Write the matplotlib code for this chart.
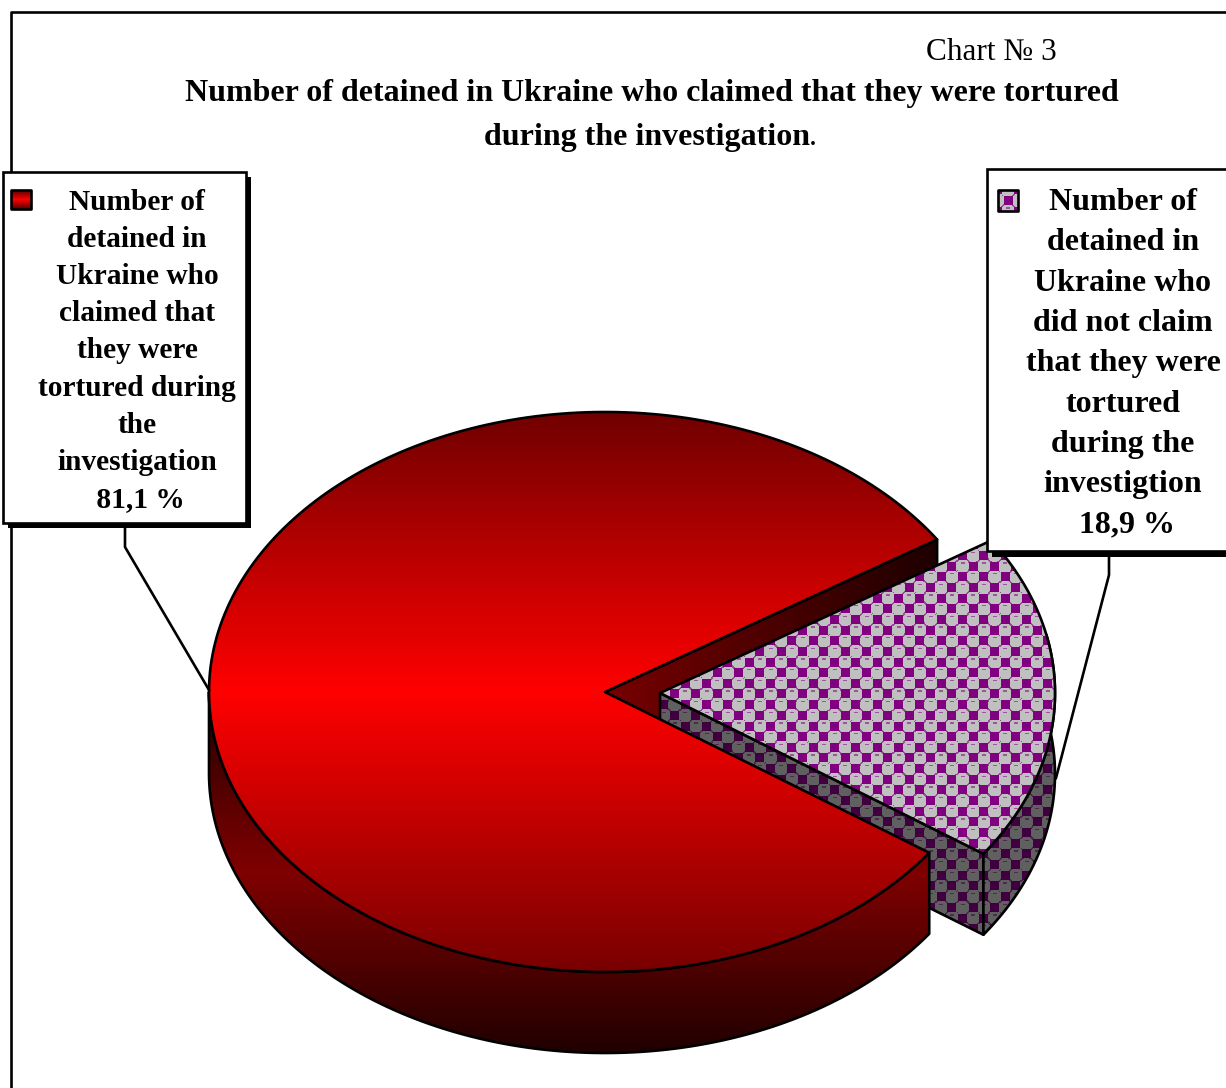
import numpy as np
import matplotlib
matplotlib.use('Agg')
import matplotlib.pyplot as plt
from matplotlib.patches import Polygon, Rectangle

plt.rcParams['font.family'] = ['Liberation Serif', 'DejaVu Sans']

shares = [81.1, 18.9]
chart_no = 'Chart № 3'
title_lines = ['Number of detained in Ukraine who claimed that they were tortured',
               'during the investigation']
left_lines = ['Number of', 'detained in', 'Ukraine who', 'claimed that', 'they were',
              'tortured during', 'the', 'investigation', ' 81,1 %']
right_lines = ['Number of', 'detained in', 'Ukraine who', 'did not claim', 'that they were',
               'tortured', 'during the', 'investigtion', ' 18,9 %']

W, H = 1226, 1088
LW = 1.9
RX, RY, DEPTH = 396, 280, 81
START = 33.0


def arc(cx, cy, a0, a1, rx=RX, ry=RY, dy=0, n=240):
    t = np.radians(np.linspace(a0, a1, n))
    return np.column_stack([cx + rx * np.cos(t), cy - ry * np.sin(t) + dy])


def red_fill(ax, x0, x1, y0, y1, low, high, mid, clip, vertical=True):
    # reflected gradient, black to red channel only
    n = int(max(abs(y1 - y0), abs(x1 - x0))) + 1
    s = np.linspace(0, 1, n)
    r = np.interp(s, [0, mid, 1], [low[0], high, low[1]])
    img = np.zeros((n, 1, 3)) if vertical else np.zeros((1, n, 3))
    if vertical:
        img[:, 0, 0] = r / 255
    else:
        img[0, :, 0] = r / 255
    im = ax.imshow(img, extent=(x0, x1, y1, y0), origin='upper', aspect='auto',
                   interpolation='bilinear', zorder=clip.get_zorder())
    im.set_clip_path(clip)


def checker(ax, x0, x1, y0, y1, clip, grey=(192, 192, 192), purple=(128, 0, 128), phase=(813.3, 662.0)):
    # the original's pattern fill, squares and rings on a 21.3 px lattice
    p = 64 / 3
    xs = np.arange(int(x0), int(x1) + 1) + 0.5
    ys = np.arange(int(y0), int(y1) + 1) + 0.5
    xx, yy = np.meshgrid(xs, ys)
    u = np.mod(xx - phase[0] + p / 4, p) - p / 4
    v = np.mod(yy - phase[1] + p / 4, p) - p / 4
    m = np.zeros_like(xx)
    # squares
    for du, dv in [(0, 0), (p / 2, p / 2)]:
        m[(np.abs(u - du) < 4.5) & (np.abs(v - dv) < 4.5)] = 1
    # rings round the circles
    for du, dv in [(p / 2, 0), (0, p / 2)]:
        d = np.hypot(u - du, v - dv)
        m = np.maximum(m, ((d > 6.8) & (d < 8.2)) * 0.6)
        m = np.maximum(m, ((np.abs(u - du) < 2) & (np.abs(v - dv + 3) < 0.8)) * 0.55)
    g = np.array(grey) / 255
    c = np.array(purple) / 255
    img = g * (1 - m[..., None]) + c * m[..., None]
    im = ax.imshow(img, extent=(xs[0] - .5, xs[-1] + .5, ys[-1] + .5, ys[0] - .5), origin='upper',
                   aspect='auto', interpolation='bilinear', zorder=clip.get_zorder())
    im.set_clip_path(clip)


def shape(ax, pts, z):
    # invisible patch used for clipping plus the black outline
    clip = Polygon(pts, closed=True, facecolor='none', edgecolor='none', zorder=z)
    ax.add_patch(clip)
    line = Polygon(pts, closed=True, facecolor='none', edgecolor='black', lw=LW, zorder=z + 0.5,
                   joinstyle='round')
    ax.add_patch(line)
    return clip


fig = plt.figure(figsize=(W / 100, H / 100), dpi=100)
ax = fig.add_axes([0, 0, 1, 1])

# outer chart frame, only top and left fall inside the picture
ax.plot([11, 11, W + 5], [H + 5, 11.5, 11.5], color='black', lw=LW, zorder=1)

sweep = 360 * shares[0] / 100
a_end = START + sweep
red_c = (605, 692)
pur_c = (660, 693)

# red slice, inner cut face
rim = arc(*red_c, START, START, n=1)[0]
pts = [red_c, rim, rim + [0, DEPTH], np.array(red_c) + [0, DEPTH]]
clip = shape(ax, pts, 2)
red_fill(ax, red_c[0], rim[0], 500, 800, (120, 30), 75, 0.5, clip, vertical=False)

# purple slice walls and top
p_a0, p_a1 = a_end - 360, START
corner = arc(*pur_c, p_a0, p_a0, rx=395, n=1)[0]
pts = [pur_c, corner, corner + [0, DEPTH], np.array(pur_c) + [0, DEPTH]]
clip = shape(ax, pts, 3)
checker(ax, 650, 1000, 680, 950, clip, (96, 96, 96), (64, 0, 64))
top = arc(*pur_c, p_a0, 12, rx=395)
pts = np.vstack([top, (top + [0, DEPTH])[::-1]])
clip = shape(ax, pts, 4)
checker(ax, 970, 1065, 680, 950, clip, (96, 96, 96), (64, 0, 64))
pts = np.vstack([[pur_c], arc(*pur_c, p_a0, p_a1, rx=395)])
clip = shape(ax, pts, 5)
checker(ax, 650, 1065, 530, 870, clip)

# red slice, outer wall and top
top = arc(*red_c, 180, a_end)
pts = np.vstack([top, (top + [0, DEPTH])[::-1]])
clip = shape(ax, pts, 6)
red_fill(ax, 200, 950, 692, 692 + RY + DEPTH, (32, 32), 128, 0.5, clip)
pts = np.vstack([[red_c], arc(*red_c, START, a_end)])
clip = shape(ax, pts, 7)
red_fill(ax, 200, 1010, red_c[1] - RY, red_c[1] + RY, (112, 120), 255, 0.5, clip)

# leader lines
ax.plot([125, 125, 209], [528, 547, 690], color='black', lw=LW, zorder=8)
ax.plot([1109, 1109, 1056], [555, 575, 778], color='black', lw=LW, zorder=8)

# label boxes with hard shadow
ax.add_patch(Rectangle((8, 177), 243, 351, facecolor='black', edgecolor='none', zorder=9))
ax.add_patch(Rectangle((3, 172), 243, 351, facecolor='white', edgecolor='black', lw=LW, zorder=10))
ax.add_patch(Rectangle((992, 175), 260, 382, facecolor='black', edgecolor='none', zorder=9))
ax.add_patch(Rectangle((987, 169), 260, 382, facecolor='white', edgecolor='black', lw=LW, zorder=10))

# legend keys
clip = shape(ax, [(11, 190), (31, 190), (31, 209), (11, 209)], 11)
red_fill(ax, 11, 31, 190, 209, (90, 90), 255, 0.5, clip)
clip = shape(ax, [(998, 190), (1018, 190), (1018, 211), (998, 211)], 11)
checker(ax, 996, 1020, 188, 213, clip, phase=(1008, 200.5))

# text
for i, line in enumerate(left_lines):
    ax.text(137, 202.5 + i * 37.1, line, ha='center', va='center', fontsize=21.2, fontweight='bold', zorder=12)
for i, line in enumerate(right_lines):
    ax.text(1123, 202.5 + i * 40.3, line, ha='center', va='center', fontsize=23, fontweight='bold', zorder=12)
ax.text(991.5, 53, chart_no, ha='center', va='center', fontsize=22.5, zorder=12)
ax.text(651.5, 93.5, title_lines[0], ha='center', va='center', fontsize=23, fontweight='bold', zorder=12)
ax.text(646.5, 137.5, title_lines[1], ha='center', va='center', fontsize=23, fontweight='bold', zorder=12)
ax.text(809, 137.5, '.', ha='left', va='center', fontsize=23, zorder=12)

ax.set_xlim(0, W)
ax.set_ylim(H, 0)
ax.axis('off')
fig.savefig('out.png', dpi=100, facecolor='white')
